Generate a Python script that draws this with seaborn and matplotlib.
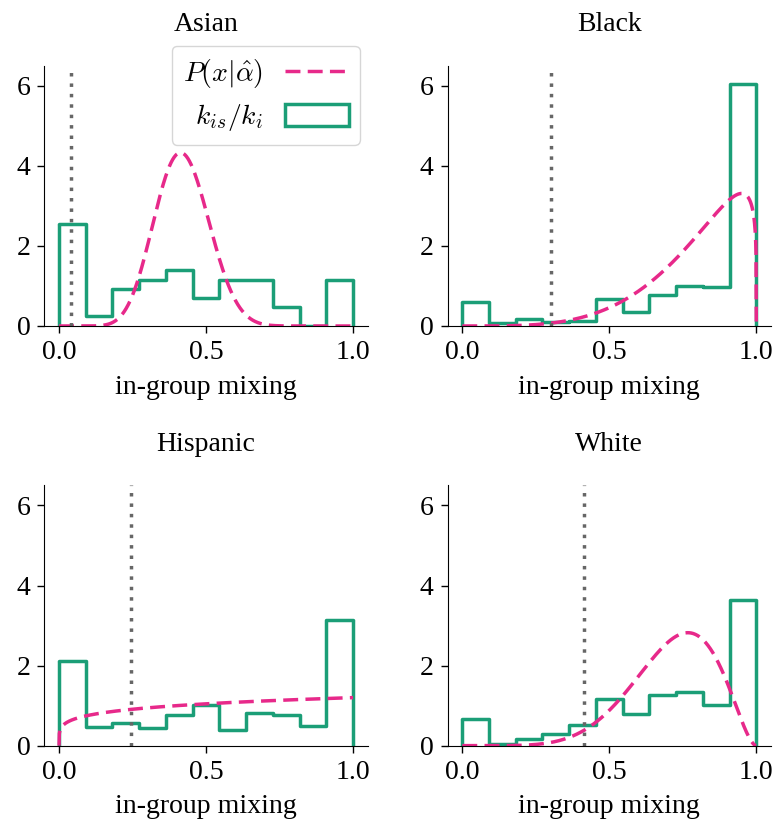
import math
import numpy as np
import pandas as pd
import matplotlib
matplotlib.use("Agg")
import matplotlib.pyplot as plt
import matplotlib.patches as mpatches
from matplotlib.lines import Line2D
import seaborn as sns

# ---- data -------------------------------------------------------------
groups = ["Asian", "Black", "Hispanic", "White"]
n_bins = 11

# normalised histogram of k_is / k_i (density per bin)
asian_density = [2.56, 0.25, 0.92, 1.15, 1.40, 0.69, 1.16, 1.16, 0.47, 0.00, 1.16]
black_density = [0.59, 0.07, 0.17, 0.10, 0.13, 0.67, 0.36, 0.77, 1.01, 0.97, 6.04]
hispanic_density = [2.11, 0.47, 0.57, 0.45, 0.76, 1.01, 0.38, 0.82, 0.76, 0.49, 3.13]
white_density = [0.66, 0.03, 0.17, 0.30, 0.51, 1.17, 0.80, 1.26, 1.34, 1.02, 3.63]

# fitted beta parameters alpha-hat = (a, b) per group
beta_a = [12.2, 4.8, 1.2, 6.93]
beta_b = [16.9, 1.2, 1.0, 2.8]

# population share of each group (dotted reference line)
population_share = [0.042, 0.303, 0.244, 0.413]

x_ticks = [0.0, 0.5, 1.0]
x_tick_labels = ["0.0", "0.5", "1.0"]
y_ticks = [0, 2, 4, 6]

# ---- style ------------------------------------------------------------
sns.set_style("ticks")
plt.rcParams["font.family"] = ["Liberation Serif", "DejaVu Serif"]
plt.rcParams["mathtext.fontset"] = "cm"
plt.rcParams["font.size"] = 20
for key in ["text.color", "axes.labelcolor", "xtick.color", "ytick.color",
            "axes.edgecolor"]:
    plt.rcParams[key] = "black"

palette = sns.color_palette("Dark2", 8)
c_hist = palette[0]
c_fit = palette[3]
c_ref = palette[7]
fit_dash = (0, (4.3, 2.1))


def beta_pdf(x, a, b):
    log_b = math.lgamma(a) + math.lgamma(b) - math.lgamma(a + b)
    return np.power(x, a - 1) * np.power(1 - x, b - 1) / math.exp(log_b)


densities = [asian_density, black_density, hispanic_density, white_density]
edges = np.linspace(0, 1, n_bins + 1)
centers = (edges[:-1] + edges[1:]) / 2
xs = np.linspace(0, 1, 1000)

fig, axes = plt.subplots(2, 2, figsize=(7.78, 8.23), dpi=100)
fig.subplots_adjust(left=0.057, right=0.991, bottom=0.094, top=0.920,
                    wspace=0.247, hspace=0.613)

for ax, name, dens, a, b, share in zip(axes.flat, groups, densities,
                                       beta_a, beta_b, population_share):
    hist_df = pd.DataFrame({"mixing": centers, "density": dens})
    sns.histplot(data=hist_df, x="mixing", weights="density", bins=n_bins,
                 binrange=(0, 1), stat="count", element="step", fill=False,
                 color=c_hist, linewidth=2.5, ax=ax)
    # close the outline down to the baseline at both outer edges
    ax.vlines([edges[0], edges[-1]], 0, [dens[0], dens[-1]],
              color=c_hist, linewidth=2.5)
    fit_df = pd.DataFrame({"mixing": xs, "pdf": beta_pdf(xs, a, b)})
    sns.lineplot(data=fit_df, x="mixing", y="pdf", color=c_fit,
                 linewidth=2.5, linestyle=fit_dash, ax=ax)
    ax.axvline(share, color=c_ref, linewidth=2.5, linestyle=(0, (1, 2.0)))

    ax.set_xlim(-0.05, 1.05)
    ax.set_ylim(0, 6.5)
    ax.set_xticks(x_ticks)
    ax.set_xticklabels(x_tick_labels)
    ax.set_yticks(y_ticks)
    ax.set_ylabel("")
    ax.set_xlabel("in-group mixing", fontsize=20, labelpad=7)
    ax.set_title(name, fontsize=20, pad=25)
    ax.tick_params(axis="x", labelsize=20, length=5, width=1.0, pad=5)
    ax.tick_params(axis="y", labelsize=20, length=5, width=1.0, pad=5)
    sns.despine(ax=ax)

handles = [
    Line2D([], [], color=c_fit, linewidth=2.5, linestyle=fit_dash),
    mpatches.Patch(facecolor="white", edgecolor=c_hist, linewidth=2.5),
]
labels = [r"$P(x|\hat{\alpha})$", r"$k_{is}/k_i$"]
axes[0, 0].legend(handles, labels, loc="upper right",
                  bbox_to_anchor=(0.976, 1.077), borderaxespad=0,
                  markerfirst=False, fontsize=20, handlelength=2.3,
                  handleheight=0.85, labelspacing=0.45, frameon=True)

fig.savefig("out.png", dpi=100)
